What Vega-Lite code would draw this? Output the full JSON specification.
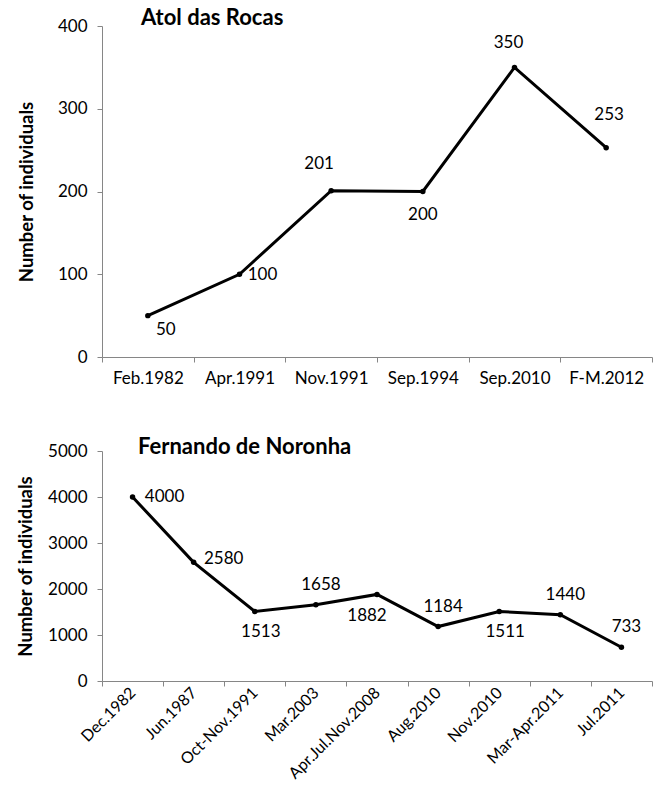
{
  "$schema": "https://vega.github.io/schema/vega-lite/v6.json",
  "padding": {"left": 16, "top": 7, "right": 2, "bottom": 0},
  "spacing": 50,
  "datasets": {
    "rocas": [
      {"period": "Feb.1982", "count": 50},
      {"period": "Apr.1991", "count": 100},
      {"period": "Nov.1991", "count": 201},
      {"period": "Sep.1994", "count": 200},
      {"period": "Sep.2010", "count": 350},
      {"period": "F-M.2012", "count": 253}
    ],
    "noronha": [
      {"period": "Dec.1982", "count": 4000},
      {"period": "Jun.1987", "count": 2580},
      {"period": "Oct-Nov.1991", "count": 1513},
      {"period": "Mar.2003", "count": 1658},
      {"period": "Apr.Jul.Nov.2008", "count": 1882},
      {"period": "Aug.2010", "count": 1184},
      {"period": "Nov.2010", "count": 1511},
      {"period": "Mar-Apr.2011", "count": 1440},
      {"period": "Jul.2011", "count": 733}
    ]
  },
  "vconcat": [
    {
      "width": 550,
      "height": 331,
      "data": {"name": "rocas"},
      "title": {"text": "Atol das Rocas", "anchor": "start", "frame": "group", "dx": 39, "offset": -13, "font": "Lato", "fontSize": 22, "fontWeight": "bold", "color": "#000"},
      "encoding": {
        "x": {"field": "period", "type": "ordinal", "sort": null, "bandPosition": 0.5,
              "scale": {"type": "band", "paddingInner": 0, "paddingOuter": 0},
              "axis": {"title": null, "labelAngle": 0, "tickBand": "extent", "labelPadding": 8}},
        "y": {"field": "count", "type": "quantitative",
              "scale": {"domain": [0, 400], "nice": false},
              "axis": {"title": "Number of individuals", "values": [0, 100, 200, 300, 400], "format": "d", "labelPadding": 10, "titlePadding": 21}}
      },
      "layer": [
        {"mark": {"type": "line", "color": "#000", "strokeWidth": 3, "point": {"filled": true, "size": 30, "color": "#000"}}},
        {"transform": [{"filter": {"field": "count", "oneOf": [50]}}], "mark": {"type": "text", "dx": 18, "dy": 14, "font": "Lato", "fontSize": 17, "color": "#000"}, "encoding": {"text": {"field": "count"}}},
        {"transform": [{"filter": {"field": "count", "oneOf": [100]}}], "mark": {"type": "text", "dx": 23, "dy": 1, "font": "Lato", "fontSize": 17, "color": "#000"}, "encoding": {"text": {"field": "count"}}},
        {"transform": [{"filter": {"field": "count", "oneOf": [201]}}], "mark": {"type": "text", "dx": -12, "dy": -27, "font": "Lato", "fontSize": 17, "color": "#000"}, "encoding": {"text": {"field": "count"}}},
        {"transform": [{"filter": {"field": "count", "oneOf": [200]}}], "mark": {"type": "text", "dx": 0, "dy": 23, "font": "Lato", "fontSize": 17, "color": "#000"}, "encoding": {"text": {"field": "count"}}},
        {"transform": [{"filter": {"field": "count", "oneOf": [350]}}], "mark": {"type": "text", "dx": -6, "dy": -24, "font": "Lato", "fontSize": 17, "color": "#000"}, "encoding": {"text": {"field": "count"}}},
        {"transform": [{"filter": {"field": "count", "oneOf": [253]}}], "mark": {"type": "text", "dx": 3, "dy": -33, "font": "Lato", "fontSize": 17, "color": "#000"}, "encoding": {"text": {"field": "count"}}}
      ]
    },
    {
      "width": 550,
      "height": 230,
      "data": {"name": "noronha"},
      "title": {"text": "Fernando de Noronha", "anchor": "start", "frame": "group", "dx": 36, "offset": -17, "font": "Lato", "fontSize": 22, "fontWeight": "bold", "color": "#000"},
      "encoding": {
        "x": {"field": "period", "type": "ordinal", "sort": null, "bandPosition": 0.5,
              "scale": {"type": "band", "paddingInner": 0, "paddingOuter": 0},
              "axis": {"title": null, "labelAngle": -45, "labelAlign": "right", "labelBaseline": "middle", "labelFontSize": 16, "tickBand": "extent", "labelPadding": 4}},
        "y": {"field": "count", "type": "quantitative",
              "scale": {"domain": [0, 5000], "nice": false},
              "axis": {"title": "Number of individuals", "values": [0, 1000, 2000, 3000, 4000, 5000], "format": "d", "labelPadding": 10, "titlePadding": 12}}
      },
      "layer": [
        {"mark": {"type": "line", "color": "#000", "strokeWidth": 3, "point": {"filled": true, "size": 30, "color": "#000"}}},
        {"transform": [{"filter": {"field": "count", "oneOf": [4000]}}], "mark": {"type": "text", "dx": 32, "dy": 0, "font": "Lato", "fontSize": 17, "color": "#000"}, "encoding": {"text": {"field": "count"}}},
        {"transform": [{"filter": {"field": "count", "oneOf": [2580]}}], "mark": {"type": "text", "dx": 30, "dy": -3, "font": "Lato", "fontSize": 17, "color": "#000"}, "encoding": {"text": {"field": "count"}}},
        {"transform": [{"filter": {"field": "count", "oneOf": [1513, 1511]}}], "mark": {"type": "text", "dx": 6, "dy": 21, "font": "Lato", "fontSize": 17, "color": "#000"}, "encoding": {"text": {"field": "count"}}},
        {"transform": [{"filter": {"field": "count", "oneOf": [1882]}}], "mark": {"type": "text", "dx": -10, "dy": 22, "font": "Lato", "fontSize": 17, "color": "#000"}, "encoding": {"text": {"field": "count"}}},
        {"transform": [{"filter": {"field": "count", "oneOf": [1658, 1184, 1440, 733]}}], "mark": {"type": "text", "dx": 5, "dy": -20, "font": "Lato", "fontSize": 17, "color": "#000"}, "encoding": {"text": {"field": "count"}}}
      ]
    }
  ],
  "config": {
    "view": {"stroke": null},
    "axis": {
      "grid": false,
      "domainColor": "#868686",
      "tickColor": "#868686",
      "tickSize": 5,
      "labelFont": "Lato",
      "labelFontSize": 17,
      "labelColor": "#000",
      "titleFont": "Lato",
      "titleFontSize": 18.5,
      "titleFontWeight": "bold",
      "titleColor": "#000"
    }
  }
}
